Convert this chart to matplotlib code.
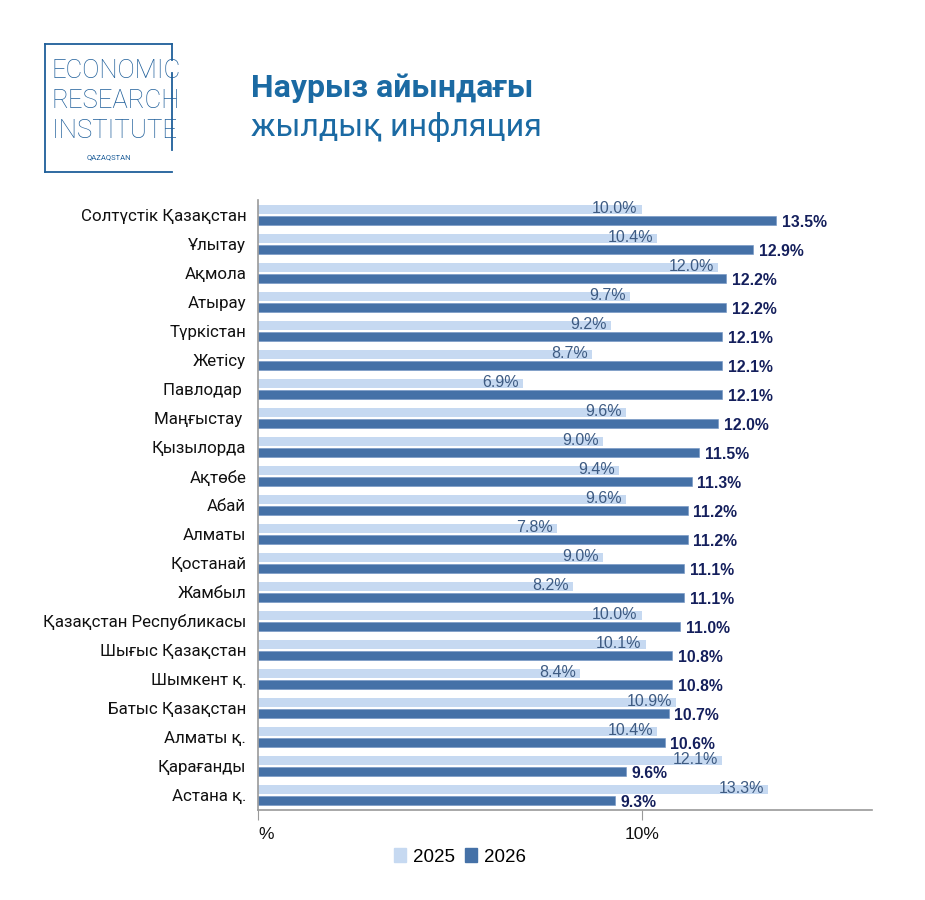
import matplotlib.pyplot as plt
import numpy as np
from matplotlib.patches import Patch

regions = ["Солтүстік Қазақстан", "Ұлытау", "Ақмола", "Атырау", "Түркістан",
           "Жетісу", "Павлодар ", "Маңғыстау ", "Қызылорда", "Ақтөбе", "Абай",
           "Алматы", "Қостанай", "Жамбыл", "Қазақстан Республикасы",
           "Шығыс Қазақстан", "Шымкент қ.", "Батыс Қазақстан", "Алматы қ.",
           "Қарағанды", "Астана қ."]
infl_2025 = [10.0, 10.4, 12.0, 9.7, 9.2, 8.7, 6.9, 9.6, 9.0, 9.4, 9.6,
             7.8, 9.0, 8.2, 10.0, 10.1, 8.4, 10.9, 10.4, 12.1, 13.3]
infl_2026 = [13.5, 12.9, 12.2, 12.2, 12.1, 12.1, 12.1, 12.0, 11.5, 11.3, 11.2,
             11.2, 11.1, 11.1, 11.0, 10.8, 10.8, 10.7, 10.6, 9.6, 9.3]
years = ["2025", "2026"]

LIGHT = "#c6d9f1"
DARK = "#4571a7"
LBL25 = "#3e5b82"
LBL26 = "#141f5c"
TITLE = "#1b6aa3"
LOGO = "#1f5f9a"

fig = plt.figure(figsize=(9.25, 9.0), dpi=100)
ax = fig.add_axes([258 / 925, 90 / 900, 614 / 925, 610 / 900])

y = np.arange(len(regions))
h = 0.31
ax.barh(y - 0.2, infl_2025, height=h, color=LIGHT, edgecolor="none")
ax.barh(y + 0.2, infl_2026, height=h, color=DARK, edgecolor="#6f93c2",
        linewidth=0.4)

for i, (a, b) in enumerate(zip(infl_2025, infl_2026)):
    ax.annotate(f"{a:.1f}%", (a, i - 0.2), xytext=(-3, 0.8),
                textcoords="offset points", ha="right", va="center",
                fontsize=11.5, color=LBL25, family="Liberation Sans")
    ax.annotate(f"{b:.1f}%", (b, i + 0.2), xytext=(4, -1.5),
                textcoords="offset points", ha="left", va="center",
                fontsize=11.3, color=LBL26, family="Liberation Sans",
                fontweight="bold")

ax.set_xlim(0, 16)
ax.set_ylim(len(regions) - 0.48, -0.52)
ax.set_yticks(y)
ax.set_yticklabels(regions, fontsize=12.2, family="Roboto", color="#111111")
ax.tick_params(axis="y", length=0, pad=8.5)
ax.set_xticks([0, 10])
ax.set_xticklabels(["%", "10%"], fontsize=12.5, family="Liberation Sans",
                   color="#111111")
ax.get_xticklabels()[0].set_horizontalalignment("left")
ax.tick_params(axis="x", length=7, color="#999999", pad=5)
for s in ["top", "right"]:
    ax.spines[s].set_visible(False)
for s in ["left", "bottom"]:
    ax.spines[s].set_color("#999999")
    ax.spines[s].set_linewidth(1.2)

handles = [Patch(color=LIGHT, label=years[0]), Patch(color=DARK, label=years[1])]
fig.legend(handles=handles, loc="center", bbox_to_anchor=(460 / 925, 43 / 900),
           ncol=2, frameon=False, handlelength=0.65, handleheight=0.7,
           handletextpad=0.4, columnspacing=0.5,
           prop={"family": "Liberation Sans", "size": 13.5})

# logo
def fx(px):
    return px / 925


def fy(py):
    return 1 - py / 900


for xs, ys in [((45, 45), (44, 172)), ((45, 172), (44, 44)),
               ((45, 172), (172, 172)), ((172, 172), (44, 60)),
               ((172, 172), (73, 150))]:
    fig.add_artist(plt.Line2D([fx(v) for v in xs], [fy(v) for v in ys],
                              color=LOGO, linewidth=1.3))
for txt, yy in [("ECONOMIC", 71), ("RESEARCH", 101), ("INSTITUTE", 131)]:
    fig.text(fx(52), fy(yy), txt, fontsize=18.5, family="Roboto",
             fontweight="light", color=LOGO, va="center", ha="left")
fig.text(fx(109), fy(157), "QAZAQSTAN", fontsize=5.5, family="Roboto",
         color=LOGO, va="center", ha="center")

fig.text(fx(251), fy(88), "Наурыз айындағы", fontsize=23, family="Roboto",
         fontweight="bold", color=TITLE, va="center", ha="left")
fig.text(fx(251), fy(127), "жылдық инфляция", fontsize=23, family="Roboto",
         color=TITLE, va="center", ha="left")

fig.savefig("out.png", dpi=100)
